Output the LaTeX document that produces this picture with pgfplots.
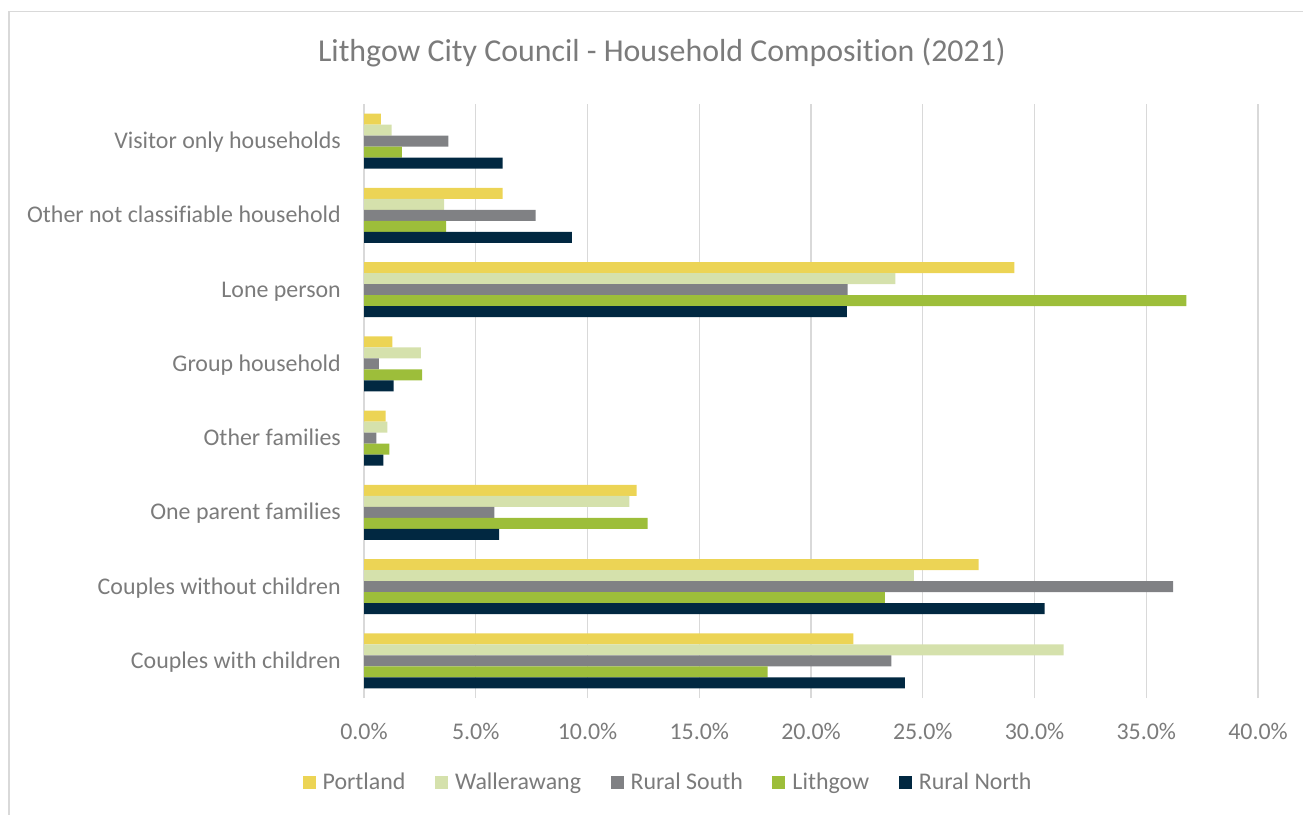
\documentclass[border=0pt]{standalone}
\usepackage{fontspec}
\setmainfont{Carlito}[Ligatures=NoCommon]
\usepackage{pgfplots}
\pgfplotsset{compat=1.18}
\definecolor{cPort}{HTML}{ECD455}
\definecolor{cWall}{HTML}{D5E1AC}
\definecolor{cRS}{HTML}{808184}
\definecolor{cLith}{HTML}{9DBE3A}
\definecolor{cRN}{HTML}{012841}
\definecolor{txt}{HTML}{7B7B7B}
\definecolor{gridc}{HTML}{D9D9D9}
\begin{document}
\begin{tikzpicture}
\useasboundingbox (0,0) rectangle (1303bp,-815bp);
\draw[color=gridc, line width=1.2bp] (9bp,-815bp) -- (9bp,-11.5bp) -- (1303bp,-11.5bp);
\begin{axis}[
  at={(364bp,-698bp)}, anchor=south west,
  width=894bp, height=594bp, scale only axis,
  xbar, bar width=11bp,
  xmin=0, xmax=40, ymin=-0.5, ymax=7.5,
  xtick={0,5,10,15,20,25,30,35,40},
  xticklabels={0.0\%,5.0\%,10.0\%,15.0\%,20.0\%,25.0\%,30.0\%,35.0\%,40.0\%},
  ytick={0,1,2,3,4,5,6,7},
  yticklabels={Couples with children,Couples without children,One parent families,Other families,Group household,Lone person,Other not classifiable household,Visitor only households},
  xmajorgrids, grid style={color=gridc, line width=1.3bp},
  axis line style={draw=none}, major tick length=0pt,
  tick label style={font=\fontsize{24}{28}\selectfont, text=txt},
  xticklabel style={anchor=center, yshift=-33bp, inner sep=0pt},
  yticklabel style={anchor=base east, xshift=-23bp, yshift=-7.5bp, inner sep=0pt},
  legend columns=5,
  legend style={draw=none, at={(0.339,-0.1414)}, anchor=center,
    font=\fontsize{24}{28}\selectfont, text=txt,
    nodes={inner sep=0pt},
    column sep=7bp,
    /tikz/every even column/.append style={column sep=29.5bp}},
  legend image code/.code={\fill[#1] (0bp,-6.5bp) rectangle (13bp,6.5bp);},
]
\addplot[fill=cPort, draw=none, bar shift=22bp] coordinates {(21.9,0) (27.5,1) (12.2,2) (0.97,3) (1.27,4) (29.1,5) (6.2,6) (0.75,7)};
\addplot[fill=cWall, draw=none, bar shift=11bp] coordinates {(31.3,0) (24.6,1) (11.87,2) (1.05,3) (2.54,4) (23.77,5) (3.59,6) (1.24,7)};
\addplot[fill=cRS, draw=none, bar shift=0bp] coordinates {(23.6,0) (36.2,1) (5.83,2) (0.55,3) (0.67,4) (21.64,5) (7.68,6) (3.78,7)};
\addplot[fill=cLith, draw=none, bar shift=-11bp] coordinates {(18.06,0) (23.3,1) (12.69,2) (1.14,3) (2.6,4) (36.8,5) (3.68,6) (1.69,7)};
\addplot[fill=cRN, draw=none, bar shift=-22bp] coordinates {(24.2,0) (30.45,1) (6.05,2) (0.87,3) (1.32,4) (21.6,5) (9.3,6) (6.2,7)};
\legend{Portland,Wallerawang,Rural South,Lithgow,Rural North}
\end{axis}
\node[anchor=base, font=\fontsize{32}{38}\selectfont, text=txt, inner sep=0pt] at (662bp,-61.5bp) {Lithgow City Council - Household Composition (2021)};
\end{tikzpicture}
\end{document}
